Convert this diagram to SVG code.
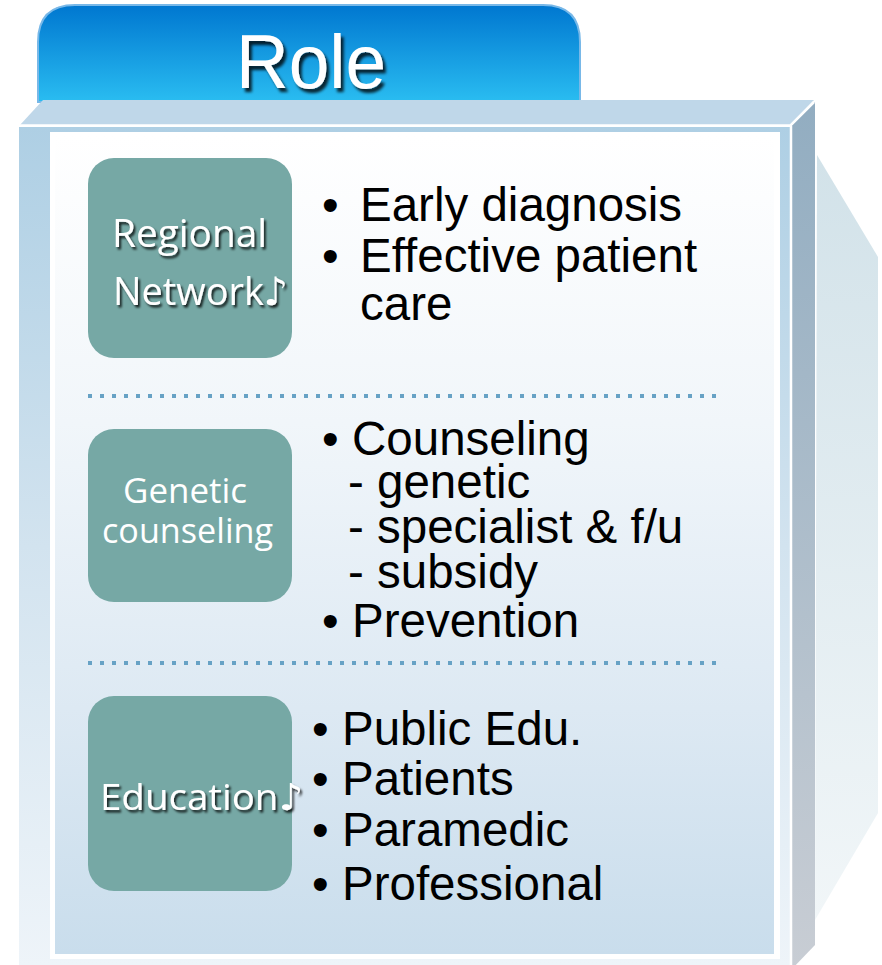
<svg xmlns="http://www.w3.org/2000/svg" width="882" height="965" viewBox="0 0 882 965">
  <defs>
    <linearGradient id="tabGrad" x1="0" y1="0" x2="0" y2="1">
      <stop offset="0" stop-color="#0077d0"/>
      <stop offset="1" stop-color="#2abdf1"/>
    </linearGradient>
    <linearGradient id="frameGrad" gradientUnits="userSpaceOnUse" x1="0" y1="127" x2="0" y2="965">
      <stop offset="0" stop-color="#aecfe4"/>
      <stop offset="0.5" stop-color="#d2e3ef"/>
      <stop offset="1" stop-color="#eef4f9"/>
    </linearGradient>
    <linearGradient id="panelGrad" gradientUnits="userSpaceOnUse" x1="0" y1="136" x2="0" y2="954">
      <stop offset="0" stop-color="#ffffff"/>
      <stop offset="0.35" stop-color="#f1f6fa"/>
      <stop offset="0.7" stop-color="#dde9f3"/>
      <stop offset="1" stop-color="#c9ddec"/>
    </linearGradient>
    <linearGradient id="sideGrad" gradientUnits="userSpaceOnUse" x1="0" y1="102" x2="0" y2="965">
      <stop offset="0" stop-color="#92adc1"/>
      <stop offset="1" stop-color="#c8cdd4"/>
    </linearGradient>
    <linearGradient id="shadowGrad" gradientUnits="userSpaceOnUse" x1="0" y1="155" x2="0" y2="920">
      <stop offset="0" stop-color="#d2e2e9"/>
      <stop offset="1" stop-color="#f1f6f8"/>
    </linearGradient>
    <filter id="ts" x="-10%" y="-20%" width="130%" height="150%">
      <feDropShadow dx="2" dy="2.5" stdDeviation="1.2" flood-color="#000" flood-opacity="0.8"/>
    </filter>
    <filter id="tsBig" x="-10%" y="-20%" width="130%" height="150%">
      <feDropShadow dx="3" dy="4" stdDeviation="1.5" flood-color="#000" flood-opacity="0.8"/>
    </filter>
  </defs>
  <style>
    .box { fill: #76a8a5; }
    .lbl { font-family: "Open Sans", "Noto Sans", "DejaVu Sans", sans-serif; fill: #ffffff; }
    .sh { filter: url(#ts); }
    .item { font-family: "Liberation Sans", Arial, sans-serif; font-size: 47.5px; fill: #000000; }
    .div { stroke: #67a2c5; stroke-width: 4; stroke-dasharray: 4 8; fill: none; }
  </style>

  <g id="frame">
    <polygon points="817,155 878,257 878,813 815,920" fill="url(#shadowGrad)"/>
    <path id="tab" d="M38,102 V42 Q38,5 75,5 H543 Q580,5 580,42 V102 Z" fill="url(#tabGrad)" stroke="#78b8e8" stroke-width="2"/>
    <polygon points="43,100 814,100 790,125 20,125" fill="#bfd7e9"/>
    <polygon points="791,126 815,102 815,945 791,970" fill="url(#sideGrad)"/>
    <rect x="19" y="127" width="771" height="845" fill="url(#frameGrad)"/>
    <rect x="50" y="132" width="730" height="827" fill="#ffffff"/>
    <rect x="55" y="136" width="719" height="818" fill="url(#panelGrad)"/>
    <polyline points="20,125.5 790.5,125.5 814,102" fill="none" stroke="#ffffff" stroke-width="2.5"/>
    <line x1="791" y1="126" x2="791" y2="965" stroke="#ffffff" stroke-width="2.5"/>
  </g>

  <g id="title">
    <text x="311" y="88" text-anchor="middle" font-family="Liberation Sans, Arial, sans-serif" font-size="76" fill="#ffffff" filter="url(#tsBig)" textLength="150" lengthAdjust="spacingAndGlyphs">Role</text>
  </g>

  <g id="node-regional">
    <rect class="box" x="88" y="158" width="204" height="200" rx="26"/>
    <text class="lbl sh" x="112" y="247" font-size="39" textLength="155" lengthAdjust="spacingAndGlyphs">Regional</text>
    <text class="lbl sh" x="113" y="305" font-size="39" textLength="175" lengthAdjust="spacingAndGlyphs">Network♪</text>
  </g>
  <g id="items-regional">
    <text class="item" x="322" y="221">•</text>
    <text class="item" x="360" y="221">Early diagnosis</text>
    <text class="item" x="322" y="272">•</text>
    <text class="item" x="360" y="272">Effective patient</text>
    <text class="item" x="360" y="320">care</text>
  </g>

  <g id="node-genetic">
    <rect class="box" x="88" y="429" width="204" height="173" rx="26"/>
    <text class="lbl" x="123" y="503" font-size="34" textLength="124" lengthAdjust="spacingAndGlyphs">Genetic</text>
    <text class="lbl" x="102" y="543" font-size="34" textLength="171" lengthAdjust="spacingAndGlyphs">counseling</text>
  </g>
  <g id="items-genetic">
    <text class="item"><tspan x="322" y="455">•</tspan><tspan x="352" y="455">Counseling</tspan><tspan x="348" y="498">- genetic</tspan><tspan x="348" y="543">- specialist &amp; f/u</tspan><tspan x="348" y="588">- subsidy</tspan><tspan x="322" y="637">•</tspan><tspan x="352" y="637">Prevention</tspan></text>
  </g>

  <g id="node-education">
    <rect class="box" x="88" y="696" width="204" height="195" rx="26"/>
    <text class="lbl sh" x="100" y="810" font-size="37" textLength="203" lengthAdjust="spacingAndGlyphs">Education♪</text>
  </g>
  <g id="items-education">
    <text class="item" x="312" y="745">•</text>
    <text class="item" x="342" y="745">Public Edu.</text>
    <text class="item" x="312" y="795">•</text>
    <text class="item" x="342" y="795">Patients</text>
    <text class="item" x="312" y="846">•</text>
    <text class="item" x="342" y="846">Paramedic</text>
    <text class="item" x="312" y="900">•</text>
    <text class="item" x="342" y="900">Professional</text>
  </g>

  <g id="connectors">
    <line class="div" x1="88" y1="396" x2="717" y2="396"/>
    <line class="div" x1="88" y1="663" x2="717" y2="663"/>
  </g>
</svg>
